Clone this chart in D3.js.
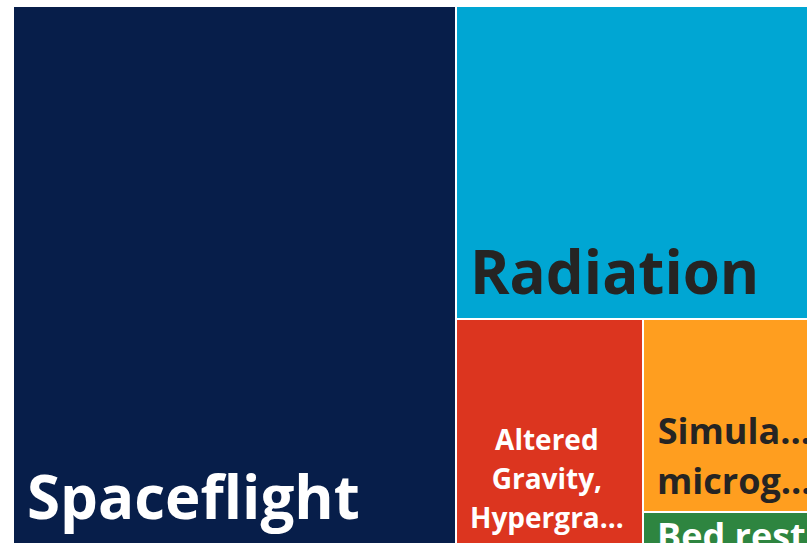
<!DOCTYPE html>
<html>
<head>
<meta charset="utf-8">
<script src="https://cdn.jsdelivr.net/npm/d3@7"></script>
<style>
  html, body { margin: 0; padding: 0; background: #ffffff; overflow: hidden; }
  svg { display: block; }
</style>
</head>
<body>
<svg id="chart" width="807" height="543"></svg>
<script>
// ---- data ----
const categories = ["Spaceflight", "Radiation", "Altered Gravity, Hypergravity", "Simulated microgravity", "Bed rest"];
const values = [238334, 114558, 42075, 34547, 5728];
// labels as displayed (wrapped / truncated)
const labelLines = [["Spaceflight"], ["Radiation"], ["Altered", "Gravity,", "Hypergra..."], ["Simula...", "microg..."], ["Bed rest"]];

// ---- styles ----
const fillColors = ["#071E4A", "#00A6D3", "#DC351F", "#FF9E1F", "#2E8540"];
const textColors = ["#FFFFFF", "#252423", "#FFFFFF", "#252423", "#FFFFFF"];
const fontSizes = [60, 60, 28, 36, 36];
const FONT = "'Open Sans', 'Noto Sans', sans-serif";

const svg = d3.select("#chart");
const g = svg.append("g").attr("transform", "translate(14,7)");

const root = d3.hierarchy({ children: categories.map((c, i) => ({ name: c, idx: i, value: values[i] })) })
  .sum(d => d.value || 0)
  .sort((a, b) => b.value - a.value);

d3.treemap()
  .tile(d3.treemapSquarify)
  .size([807, 536])
  .paddingInner(2)
  .round(true)(root);

const cells = g.selectAll("g.cell")
  .data(root.leaves())
  .join("g")
  .attr("class", "cell");

cells.append("rect")
  .attr("x", d => d.x0)
  .attr("y", d => d.y0)
  .attr("width", d => d.x1 - d.x0)
  .attr("height", d => d.y1 - d.y0)
  .attr("fill", d => fillColors[d.data.idx]);

cells.each(function (d) {
  const i = d.data.idx;
  const fs = fontSizes[i];
  const lh = fs * 1.39;
  const lines = labelLines[i];
  const sel = d3.select(this);
  const t = sel.append("text")
    .attr("font-family", FONT)
    .attr("font-weight", 700)
    .attr("font-size", fs)
    .attr("fill", textColors[i]);
  const tspans = lines.map(l => t.append("tspan").text(l));
  const widths = tspans.map(s => s.node().getComputedTextLength());
  const blockW = d3.max(widths);
  const left = d.x0 + 13;
  const pad = fs * 0.28 + 7;
  const n = lines.length;
  let firstBase = d.y1 - pad - (n - 1) * lh;
  firstBase = Math.max(firstBase, d.y0 + fs);
  tspans.forEach((s, k) => {
    s.attr("x", left + blockW / 2)
     .attr("y", firstBase + k * lh)
     .attr("text-anchor", "middle");
  });
});
</script>
</body>
</html>
